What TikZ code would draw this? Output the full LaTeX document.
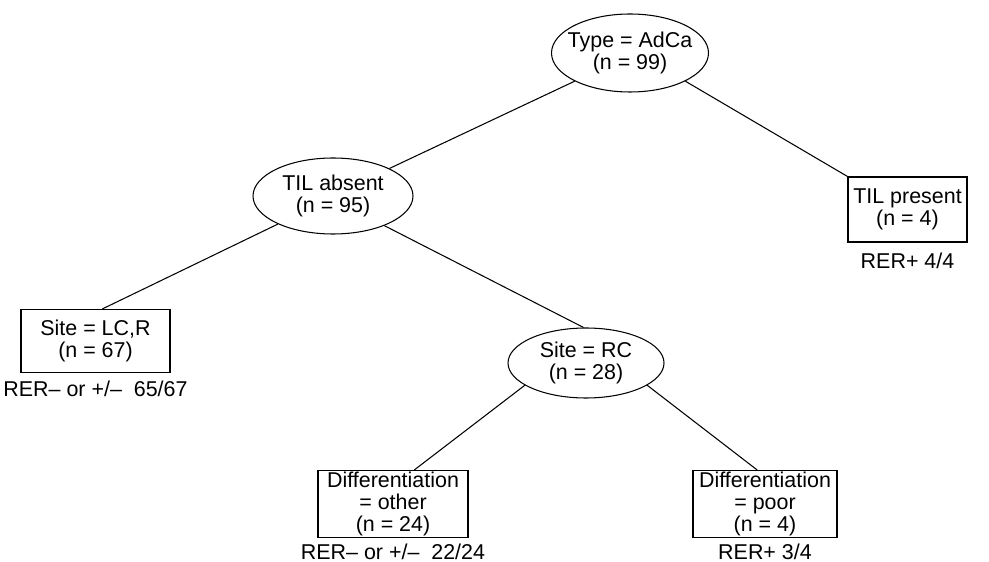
\documentclass[tikz,border=0pt]{standalone}
\usepackage{fontspec}
\setmainfont{Liberation Sans}
\usetikzlibrary{shapes.geometric, positioning}
\tikzset{
  treefont/.style={font=\fontsize{12.2}{12.6}\selectfont},
  splitnode/.style={
    ellipse, draw=black, line width=0.6pt,
    minimum width=3.14cm, minimum height=1.46cm,
    inner sep=0pt, align=center, treefont
  },
  leafnode/.style={
    rectangle, draw=black, line width=0.6pt,
    inner sep=0pt, align=center, treefont
  },
  outcome/.style={inner sep=0pt, treefont},
  branch/.style={line width=0.6pt, black}
}
\begin{document}
\begin{tikzpicture}[node distance=0.12cm]
  \path[use as bounding box] (0,0) rectangle (19.78,-11.24);

  % Split nodes
  \node[splitnode, inner xsep=-4pt, minimum height=1.56cm] (root) at (12.60,-1.06) {Type = AdCa\\(n = 99)};
  \node[splitnode, on grid, below left=2.86cm and 5.94cm of root, minimum width=3.2cm, minimum height=1.52cm] (absent) {TIL absent\\(n = 95)};
  \node[splitnode, on grid, below right=3.34cm and 5.06cm of absent, minimum width=3.12cm, minimum height=1.40cm] (rc) {Site = RC\\(n = 28)};

  % Leaf nodes
  \node[leafnode, on grid, below right=3.13cm and 5.55cm of root, minimum width=2.38cm, minimum height=1.30cm] (present) {TIL present\\(n = 4)};
  \node[leafnode, on grid, below left=2.90cm and 4.75cm of absent, minimum width=2.98cm, minimum height=1.26cm] (lcr) {Site = LC,R\\(n = 67)};
  \node[leafnode, on grid, below left=2.82cm and 3.86cm of rc, minimum width=3.0cm, minimum height=1.34cm] (other) {Differentiation\\= other\\(n = 24)};
  \node[leafnode, on grid, below right=2.82cm and 3.58cm of rc, minimum width=2.88cm, minimum height=1.34cm] (poor) {Differentiation\\= poor\\(n = 4)};

  % Outcomes
  \node[outcome, below=0.2cm of present] (presentres) {RER+ 4/4};
  \node[outcome, below=0.15cm of lcr] (lcrres) {RER– or +/–\ \ 65/67};
  \node[outcome, below=of other] (otherres) {RER– or +/–\ \ 22/24};
  \node[outcome, below=of poor] (poorres) {RER+ 3/4};

  % Branches
  \draw[branch] (root.207) -- (absent.26);
  \draw[branch] (root.-27) -- (present.north west);
  \draw[branch] (absent.207) -- (lcr.78);
  \draw[branch] (absent.-30) -- (rc.94);
  \draw[branch] (rc.200) -- (other.58);
  \draw[branch] (rc.-20) -- (poor.103);
\end{tikzpicture}
\end{document}
